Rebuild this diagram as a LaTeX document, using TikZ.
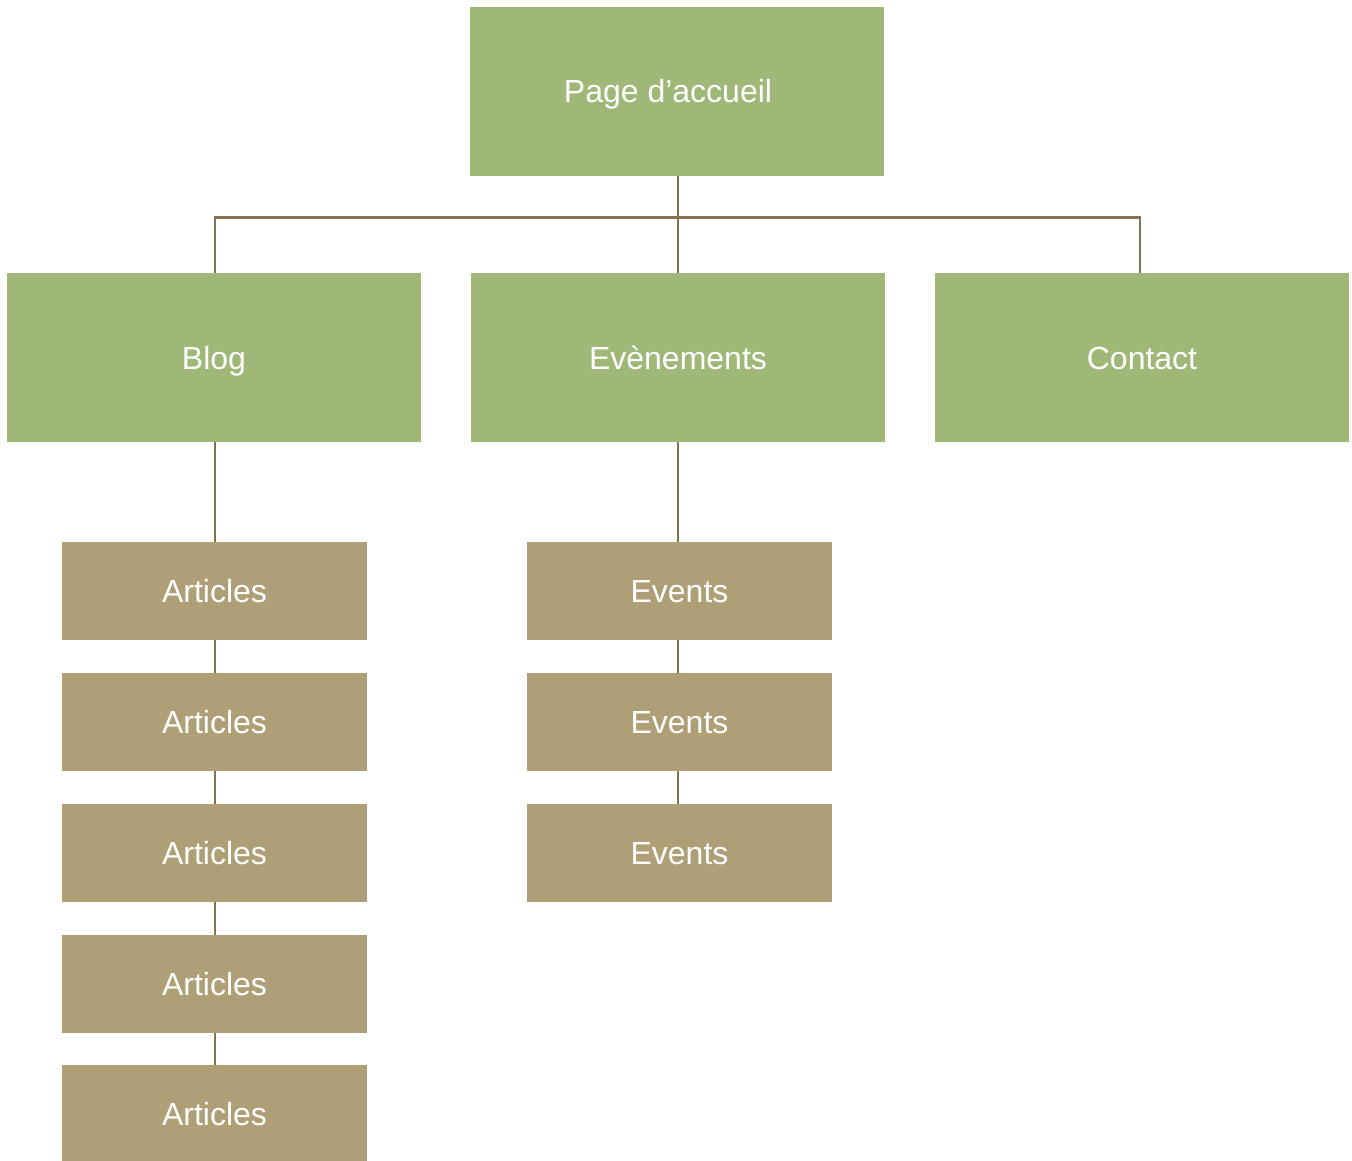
\documentclass[tikz,border=0pt]{standalone}
\usepackage{fontspec}
\setmainfont{Liberation Sans}
\definecolor{leaf}{HTML}{9FB878}
\definecolor{sand}{HTML}{AF9F76}
\definecolor{wire}{HTML}{83734F}
\begin{document}
\begin{tikzpicture}[x=1pt,y=-1pt,
  base/.style={rectangle,inner sep=0pt,text=white,font=\fontsize{32}{40}\selectfont,text height=23.4pt,text depth=0pt},
  bigbox/.style={base,fill=leaf,minimum width=414pt,minimum height=168.5pt},
  smallbox/.style={base,fill=sand,minimum width=305pt,minimum height=97.7pt},
  link/.style={draw=wire,line width=2.2pt,line join=miter}]
\useasboundingbox (0,0) rectangle (1352,1160);
\clip (0,0) rectangle (1352,1160);
\node[bigbox] (home) at (677,91.25) {Page d’accueil\hspace*{18pt}};
\node[bigbox] (blog) at (214,357.5) {Blog};
\node[bigbox] (even) at (678,357.5) {Evènements};
\node[bigbox] (cont) at (1142,357.5) {Contact};
\node[smallbox] (a1) at (214.5,591) {Articles};
\node[smallbox] (a2) at (214.5,722) {Articles};
\node[smallbox] (a3) at (214.5,853) {Articles};
\node[smallbox] (a4) at (214.5,984) {Articles};
\node[smallbox] (a5) at (214.5,1114) {Articles};
\node[smallbox] (e1) at (679.5,591) {Events};
\node[smallbox] (e2) at (679.5,722) {Events};
\node[smallbox] (e3) at (679.5,853) {Events};
\coordinate (bus) at (678.3,217.5);
\coordinate (bl) at (215.3,273);
\coordinate (cr) at (1140.3,273);
\coordinate (ev) at (678.3,273);
\coordinate (ho) at (678.3,175.5);
\draw[link] (ho) -- (ev);
\draw[link] (bl) -- (bl |- bus) -- (cr |- bus) -- (cr);
\coordinate (bb) at (215.3,441.5);
\draw[link] (bb) -- (bb |- a1.north);
\draw[link] (bb |- a1.south) -- (bb |- a2.north);
\draw[link] (bb |- a2.south) -- (bb |- a3.north);
\draw[link] (bb |- a3.south) -- (bb |- a4.north);
\draw[link] (bb |- a4.south) -- (bb |- a5.north);
\coordinate (eb) at (678.3,441.5);
\draw[link] (eb) -- (eb |- e1.north);
\draw[link] (eb |- e1.south) -- (eb |- e2.north);
\draw[link] (eb |- e2.south) -- (eb |- e3.north);
\end{tikzpicture}
\end{document}
